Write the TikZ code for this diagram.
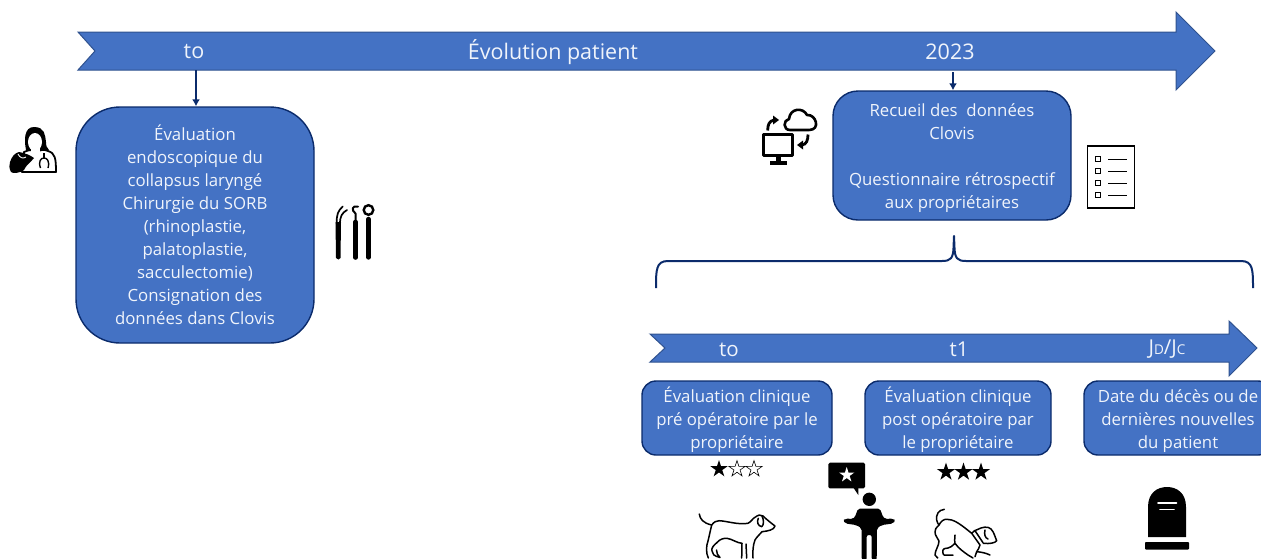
\documentclass[tikz,border=0pt]{standalone}
\usepackage{fontspec}
\setmainfont{Open Sans}
\usetikzlibrary{arrows.meta}
\definecolor{blu}{HTML}{4472C4}
\definecolor{blud}{HTML}{2F528F}
\definecolor{navy}{HTML}{0B2B6B}
\definecolor{txt}{HTML}{F0F4FB}
\tikzset{
  bandarrow/.style={fill=blu,draw=blud,line width=1pt},
  bandlabel/.style={text=txt,inner sep=0pt,font=\fontsize{#1}{24}\selectfont},
  bandlabel/.default=21.5,
  bluebox/.style={fill=blu,draw=navy,line width=1.4pt,text=txt,align=center,inner sep=0pt,
    font=\fontsize{16.8}{23}\selectfont},
  link/.style={draw=navy,line width=2pt,-{Latex[length=7pt,width=8pt]}},
  icon/.style={fill=black,draw=none},
  iconline/.style={draw=black,line width=2pt,line cap=round,line join=round},
  dogline/.style={draw=black,line width=1.5pt,line cap=round,line join=round},
}
\newcommand{\topgap}{\rule{0pt}{21pt}}
\newcommand{\starp}[3]{%
  (#1+0,#2-#3)
  \foreach \k in {1,...,9}{ -- ({#1+(#3*(1-0.62*mod(\k,2)))*sin(36*\k)},{#2-(#3*(1-0.62*mod(\k,2)))*cos(36*\k)}) } -- cycle}
\begin{document}
\begin{tikzpicture}[x=1pt,y=-1pt]
\useasboundingbox (0,0) rectangle (1261,558);
\clip (0,0) rectangle (1261,558);
% main timelines
\draw[bandarrow] (78,32) -- (95,51) -- (78,70) -- (1176,70) -- (1176,90) -- (1215,51) -- (1176,12) -- (1176,32) -- cycle;
\draw[bandarrow] (650,334) -- (665,348) -- (650,362) -- (1229,362) -- (1229,376) -- (1257,348) -- (1229,321) -- (1229,334) -- cycle;
\node[bandlabel] (to1) at (194,52) {to};
\node[bandlabel] (evo) at (553,52) {Évolution patient};
\node[bandlabel] (y23) at (950,52) {2023};
\node[bandlabel=20.5] (to2) at (729,349.5) {to};
\node[bandlabel=20.5] (t1) at (959,349) {t1};
\node[bandlabel=20.5] (jd) at (1167,349.5) {J{\fontsize{13.5}{14}\selectfont D}/J{\fontsize{13.5}{14}\selectfont C}};
\coordinate (a1) at (196,70);
\coordinate (a2) at (953,72);
% boxes
\node[bluebox,rounded corners=44pt,minimum width=238pt,minimum height=236pt] (left) at (195,225)
 {\topgap Évaluation\\endoscopique du\\collapsus laryngé\\Chirurgie du SORB\\(rhinoplastie,\\palatoplastie,\\sacculectomie)\\Consignation des\\données dans Clovis\strut};
\node[bluebox,rounded corners=25pt,minimum width=238pt,minimum height=129pt] (rec) at (952,155.5)
 {\topgap Recueil des~ données\\Clovis\\~\\Questionnaire rétrospectif\\aux propriétaires\strut};
\node[bluebox,rounded corners=14pt,minimum width=190pt,minimum height=74pt] (b1) at (737,418)
 {\topgap Évaluation clinique\\pré opératoire par le\\propriétaire\strut};
\node[bluebox,rounded corners=14pt,minimum width=186pt,minimum height=74pt] (b2) at (958,418)
 {\topgap Évaluation clinique\\post opératoire par\\le propriétaire\strut};
\node[bluebox,rounded corners=14pt,minimum width=188pt,minimum height=74pt] (b3) at (1178,418)
 {\topgap Date du décès ou de\\dernières nouvelles\\du patient\strut};
\draw[link] (a1) -- (left.north -| a1);
\draw[link] (a2) -- (rec.north -| a2);
% brace
\coordinate (brL) at (656,288);
\coordinate (brT) at (954,236);
\coordinate (brR) at (1253,288);
\draw[navy,line width=2pt,line join=round] (brL) .. controls (656,270) and (656,261) .. (668,261) -- (942,261)
  .. controls (951,261) and (953,258) .. (953.5,248) -- (brT) -- (954.5,248) .. controls (955,258) and (957,261) .. (966,261)
  -- (1241,261) .. controls (1253,261) and (1253,270) .. (brR);
% doctor icon
\fill[icon] (26,150) .. controls (24,140) and (24,127) .. (34,127) .. controls (45,127) and (45,135) .. (46,142) .. controls (46,146) and (47,148) .. (49,150) -- cycle;
\draw[black,line width=1.8pt,fill=white,line join=round] (24,152) .. controls (30,149) and (33,150) .. (36,152) .. controls (40,150) and (44,149) .. (48,151) .. controls (55,153) and (56,158) .. (56,172) -- (22,172) -- cycle;
\fill[white] (35,142) ellipse (7 and 9);
\fill[white] (31,148) rectangle (40,155);
\fill[icon] (10,162) .. controls (12,156) and (15,153) .. (19,152) .. controls (25,153) and (30,155) .. (34,158) .. controls (31,162) and (26,165) .. (24,170) .. controls (20,173) and (13,174) .. (11,172) .. controls (9,168) and (9,165) .. (10,162) -- cycle;
\draw[white,line width=.9pt] (18,154) .. controls (20,158) and (23,159) .. (26,157);
\draw[black,line width=1.4pt] (40.5,168) .. controls (38,161) and (41,158) .. (44,158) .. controls (47,158) and (50,161) .. (48,168);
\draw[black,line width=1.2pt] (44,158) -- (44,153);
% instruments
\fill[icon] (336,258) -- (335.5,222) -- (341,222) -- (340.5,258) .. controls (340,260) and (337,260) .. (336,258) -- cycle;
\draw[iconline,line width=1.7pt] (336.7,224) .. controls (336.5,214) and (338,211) .. (342.7,206.5);
\draw[iconline,line width=1.7pt] (340,224) .. controls (340,216) and (342,213) .. (347,210);
\draw[iconline,line width=4.6pt] (355.5,257.5) -- (355.5,222);
\draw[iconline,line width=2pt] (355.5,222) -- (355.5,213.5) .. controls (351,210) and (352,205) .. (358,206.7);
\draw[iconline,line width=4.3pt] (368.5,257.5) -- (368.5,219);
\draw[black,line width=2.4pt] (368.5,210) circle (4.8);
% computer and cloud
\draw[black,line width=3pt,line join=round] (763.8,134.8) rectangle (792.8,155.8);
\fill[icon] (775.5,157) rectangle (781,162);
\fill[icon] (770,161) rectangle (786.7,165);
\draw[black,line width=2.6pt,line join=round] (790,130) .. controls (783,130) and (783,120) .. (789,119) .. controls (790,108) and (803,107) .. (807,115)
  .. controls (816,114) and (821,130) .. (809,130) -- cycle;
\draw[black,line width=2.8pt] (767.7,130.5) .. controls (767.7,125) and (769,121) .. (774,120);
\fill[icon] (773,115.5) -- (779,120) -- (773,124.5) -- cycle;
\draw[black,line width=2.8pt] (808,134.5) .. controls (808,140) and (806.5,144.5) .. (802,145);
\fill[icon] (803,140.5) -- (797,145) -- (803,149.5) -- cycle;
% checklist
\draw[black,line width=1.3pt,fill=white] (1087.5,146) rectangle (1134.5,208);
\foreach \yy in {159,171,183,195}{
  \draw[black,line width=1.4pt] (1095.5,\yy-2.7) rectangle (1100.5,\yy+2.7);
  \draw[black,line width=1pt] (1108,\yy) -- (1127,\yy);
}
% stars
\fill[black] \starp{719}{469}{9};
\draw[black,line width=.6pt,fill=white] \starp{737}{469}{8.5};
\draw[black,line width=.6pt,fill=white] \starp{754}{469}{8.5};
\fill[black] \starp{946}{472}{9.5};
\fill[black] \starp{963.5}{472}{9.5};
\fill[black] \starp{981}{472}{9.5};
% dog 1
\draw[dogline] (699.3,514) .. controls (700,519) and (703,523) .. (711.7,525)
  .. controls (714,522) and (716,520.7) .. (719,520.7) .. controls (727,521) and (738,525) .. (748,523.3)
  .. controls (751,522) and (753,518) .. (755,517.3) .. controls (758,515) and (761,514) .. (763,516)
  .. controls (766,519) and (771,523) .. (775,526) .. controls (774,530) and (768,531) .. (762,531.7)
  .. controls (759,535) and (756,538) .. (755,540) .. controls (753,545) and (752.5,552) .. (753,558);
\draw[dogline] (711.7,525) .. controls (710,532) and (709,537) .. (708,541) .. controls (706,546) and (706,553) .. (708.3,558);
\draw[dogline] (717,542.5) .. controls (714,545) and (711,548) .. (712,551) .. controls (712,554) and (714,556) .. (720,557.5) .. controls (718,555) and (716,553) .. (716.5,550);
\draw[dogline] (717,542.5) .. controls (720,539) and (724,538) .. (727,538.3) .. controls (732,539) and (737,543) .. (742,543.3) -- (741.7,558);
\draw[dogline] (746,544) -- (746.7,558);
\draw[dogline] (758.3,518.3) .. controls (756.5,522) and (758,526) .. (761.7,526.7) .. controls (764,525) and (764,520) .. (762,516);
% person
\fill[icon] (869.3,499.3) circle (6.7);
\fill[icon,rounded corners=2pt] (858,508.5) -- (880,508.5) -- (883,517) -- (885,519) -- (893,518.5) -- (895.5,520.5) -- (893,523.5) -- (882,525) -- (877,528) -- (876.7,560) -- (871.7,560) -- (871.7,535) -- (866.7,535) -- (866.7,560) -- (861.7,560) -- (861.5,528) -- (856,525) -- (845.5,523.5) -- (843,520.5) -- (845.5,518.5) -- (853,519) -- (855,517) -- cycle;
\fill[icon,rounded corners=1.5pt] (828.3,462.7) rectangle (865,488.3);
\fill[icon] (853,487) -- (858.3,495) -- (858.3,487) -- cycle;
\fill[white] \starp{846.7}{475}{8};
% dog 2
\draw[dogline] (944.3,509.3) .. controls (938,510) and (936,515) .. (936.7,520) .. controls (937,522) and (938,524) .. (939,525)
  .. controls (936,528) and (934.5,530) .. (935,532) .. controls (935,536) and (938,538) .. (939,541) .. controls (939,546) and (935,550) .. (935,555) -- (937.7,558);
\draw[dogline] (939,525) .. controls (941,521) and (944,519) .. (947,519.3) .. controls (953,519) and (960,524) .. (966.7,529.3)
  -- (971.7,533.3) .. controls (973,531) and (976,530) .. (978,529.3) .. controls (982,527) and (988,526) .. (991,529)
  .. controls (994,532) and (995,537) .. (996.7,540.7) .. controls (995,543) and (990,544) .. (983.3,543.3);
\draw[dogline] (971.7,533.3) -- (980,545) .. controls (979,548) and (978,550) .. (976.7,551.7) .. controls (981,552) and (986,553) .. (990,555);
\draw[dogline] (975,530.7) -- (983,542.7);
\draw[dogline] (955,535) .. controls (955,539) and (954,542) .. (955,543.3) .. controls (959,549) and (964,552) .. (968,555) -- (973,558);
\draw[dogline] (955,543.3) .. controls (952,546) and (950,548) .. (948,548) .. controls (945,548) and (943,549) .. (943,550) .. controls (942,553) and (944,556) .. (945,555) -- (953,555);
\draw[dogline] (976.7,551.7) -- (975,556.7);
\draw[dogline] (985,530) .. controls (984,534) and (985,538) .. (988,539);
% tombstone
\fill[icon] (1148,537) -- (1148,507) .. controls (1148,493) and (1157,487) .. (1167,487) .. controls (1177,487) and (1186,493) .. (1186,507) -- (1186,537) -- cycle;
\fill[icon,rounded corners=.8pt] (1145,542) rectangle (1189,549.5);
\draw[white,line width=1.6pt,line cap=round] (1158,503) -- (1176.5,503);
\draw[white,line width=1.6pt,line cap=round] (1160,509.5) -- (1174,509.5);
\end{tikzpicture}
\end{document}
